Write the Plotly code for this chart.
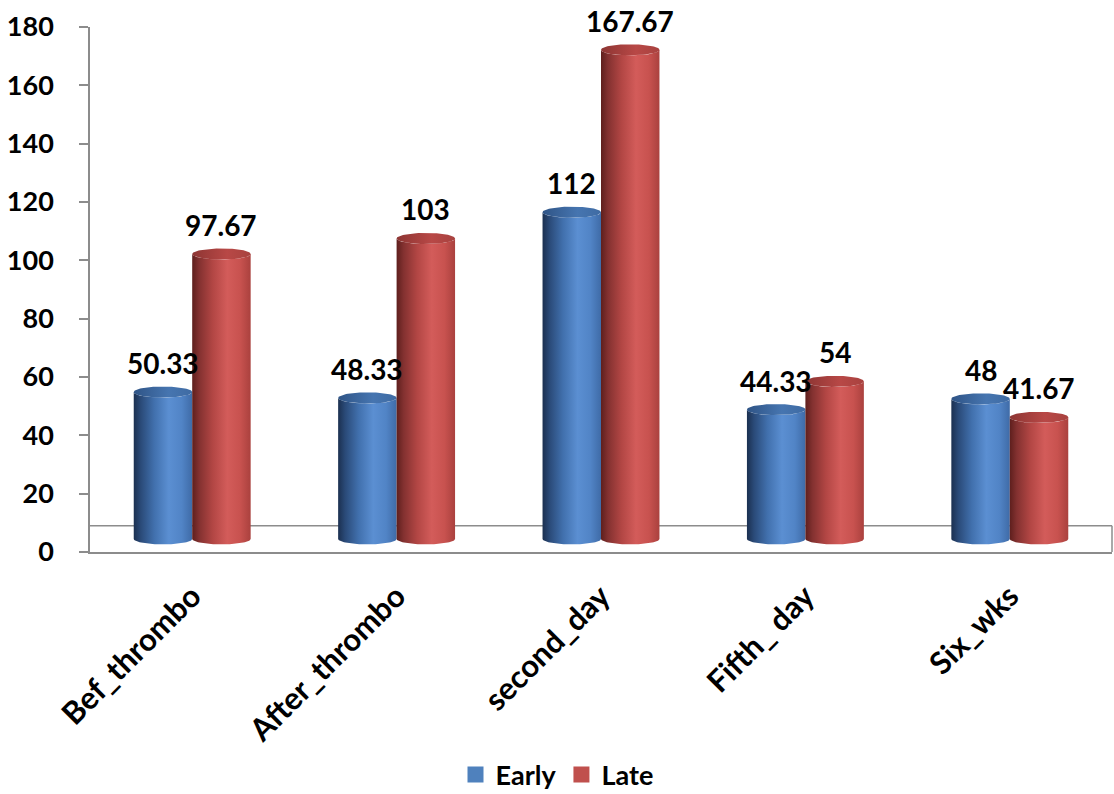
import plotly.graph_objects as go
import numpy as np

categories = ["Bef_thrombo", "After_thrombo", "second_day", "Fifth_ day", "Six_wks"]
early = [50.33, 48.33, 112, 44.33, 48]
late = [97.67, 103, 167.67, 54, 41.67]
series_names = ["Early", "Late"]
y_ticks = [0, 20, 40, 60, 80, 100, 120, 140, 160, 180]

FONT = "Lato"
AXIS_GRAY = "#8c8c8c"

# cylinder styling
flat_colors = ["#4f81bd", "#c0504d"]
body_scales = [
    [[0, "#1b3050"], [0.12, "#2a4a78"], [0.35, "#4170ad"], [0.6, "#5b8fd2"], [0.82, "#5184c6"], [1, "#3f6ba7"]],
    [[0, "#5e1f1d"], [0.12, "#833130"], [0.35, "#b24644"], [0.6, "#d35c5a"], [0.82, "#c8524f"], [1, "#aa413e"]],
]
cap_scales = [
    [[0, "#2f5486"], [0.6, "#4675b0"], [1, "#3f6ba3"]],
    [[0, "#8d3533"], [0.6, "#b84846"], [1, "#a8423f"]],
]

HALF_W = 0.143      # cylinder radius in category units
ELL_B = 1.9         # ellipse half-height in value units
DEPTH_OFF = 4.5     # cylinders sit at mid floor depth
FLOOR_BACK = 9.0    # back edge of the floor

fig = go.Figure()

t_low = np.linspace(np.pi, 2 * np.pi, 40)   # lower half arc
t_full = np.linspace(0, 2 * np.pi, 80)

for s, vals in enumerate([early, late]):
    for i, v in enumerate(vals):
        cx = i + (-HALF_W if s == 0 else HALF_W)
        # body: left side up, lower arc of top ellipse, right side down, lower arc of bottom ellipse
        arc_x = cx - HALF_W * np.cos(t_low - np.pi)   # left -> right
        arc_y = np.sin(t_low) * ELL_B
        xs = [cx - HALF_W, cx - HALF_W] + list(arc_x) + [cx + HALF_W] + list(arc_x[::-1])
        ys = [0, v] + list(v + arc_y) + [0] + list(arc_y[::-1])
        fig.add_trace(go.Scatter(
            x=xs, y=ys, xaxis="x", yaxis="y2", mode="lines", fill="toself",
            line=dict(width=0), fillgradient=dict(type="horizontal", colorscale=body_scales[s]),
            hoverinfo="skip", showlegend=False,
        ))
        # top cap
        fig.add_trace(go.Scatter(
            x=list(cx + HALF_W * np.cos(t_full)), y=list(v + ELL_B * np.sin(t_full)),
            xaxis="x", yaxis="y2", mode="lines", fill="toself", line=dict(width=0),
            fillgradient=dict(type="horizontal", colorscale=cap_scales[s]),
            hoverinfo="skip", showlegend=False,
        ))

# legend entries
for s, name in enumerate(series_names):
    fig.add_trace(go.Scatter(x=[None], y=[None], name=name, mode="markers",
                             marker=dict(symbol="square", size=18, color=flat_colors[s],
                                         line=dict(width=0))))

# value labels
for s, vals in enumerate([early, late]):
    for i, v in enumerate(vals):
        cx = i + (-HALF_W if s == 0 else HALF_W)
        fig.add_annotation(
            x=cx, y=v, xref="x", yref="y2", text=f"{v:g}", showarrow=False,
            yanchor="bottom", yshift=10,
            font=dict(family=FONT, size=28, color="#000000", weight="bold"),
        )

# floor outline (back edge and right edge)
fig.add_shape(type="line", xref="paper", yref="y", x0=0, x1=1, y0=FLOOR_BACK, y1=FLOOR_BACK,
              line=dict(color=AXIS_GRAY, width=1.5), layer="below")
fig.add_shape(type="line", xref="paper", yref="y", x0=1, x1=1, y0=0, y1=FLOOR_BACK,
              line=dict(color=AXIS_GRAY, width=1.5), layer="below")

n = len(categories)
fig.update_layout(
    width=1114, height=794,
    margin=dict(l=90, r=2, t=27, b=242),
    paper_bgcolor="white", plot_bgcolor="white",
    showlegend=True,
    legend=dict(orientation="h", xref="container", yref="container", x=0.5, xanchor="center",
                y=0.024, yanchor="middle", itemwidth=30,
                font=dict(family=FONT, size=27, color="#000000", weight="bold")),
    xaxis=dict(range=[-0.5, n - 0.5], tickvals=list(range(n)), ticktext=categories,
               tickangle=-45, ticks="", showgrid=False, zeroline=False,
               showline=True, linecolor=AXIS_GRAY, linewidth=1.5, ticklabelstandoff=12,
               tickfont=dict(family=FONT, size=31, color="#000000", weight="bold")),
    xaxis2=dict(range=[-0.5, n - 0.5], overlaying="x", anchor="y", side="bottom",
                tickvals=[k - 0.5 for k in range(n + 1)], showticklabels=False,
                ticks="outside", ticklen=9, tickwidth=1.5, tickcolor=AXIS_GRAY,
                showgrid=False, zeroline=False, showline=False),
    yaxis=dict(range=[0, 180], tickvals=y_ticks, ticks="outside", ticklen=9,
               tickwidth=1.5, tickcolor=AXIS_GRAY, showline=True, linecolor=AXIS_GRAY,
               linewidth=1.5, showgrid=False, zeroline=False, ticklabelstandoff=20,
               tickfont=dict(family=FONT, size=27, color="#000000", weight="bold")),
    yaxis2=dict(range=[-DEPTH_OFF, 180 - DEPTH_OFF], overlaying="y", visible=False),
)

fig.write_html("out.html")
